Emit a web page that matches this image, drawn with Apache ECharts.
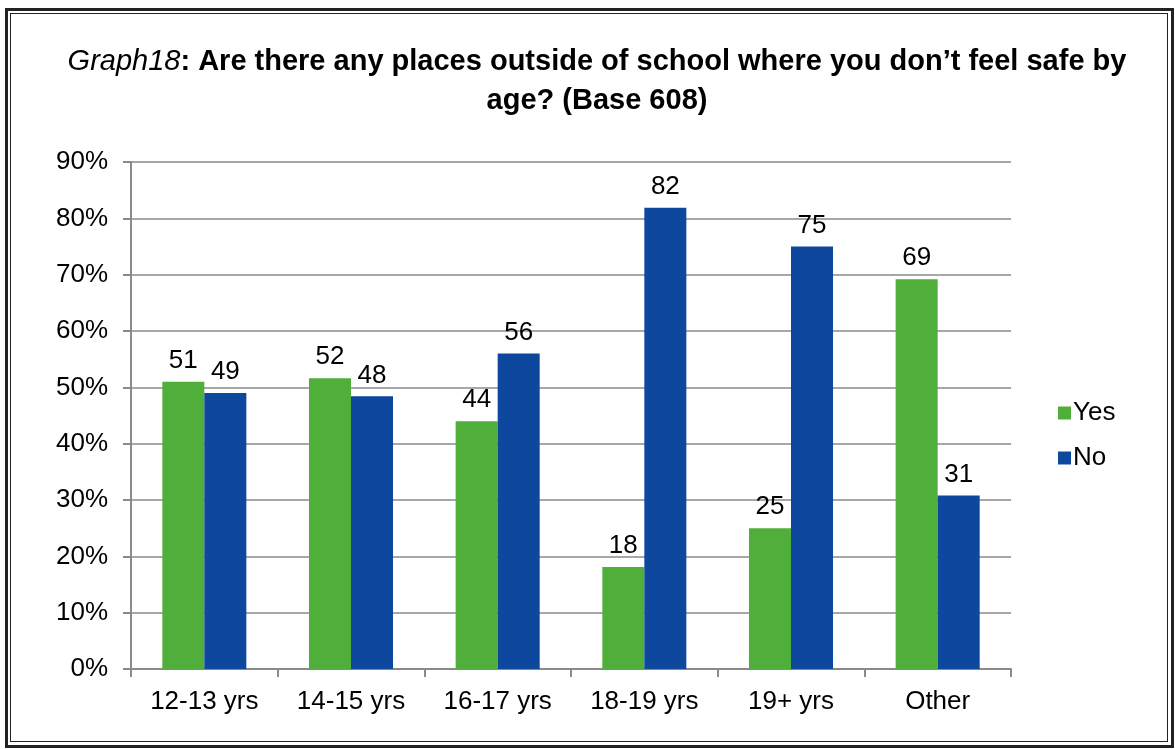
<!DOCTYPE html>
<html>
<head>
<meta charset="utf-8">
<script src="https://cdn.jsdelivr.net/npm/echarts@6/dist/echarts.min.js"></script>
<style>
    html, body { margin: 0; padding: 0; background: #fff; }
    #outer {
        position: absolute; left: 5px; top: 8px;
        width: 1163px; height: 734px;
        border: 3px solid #222;
    }
    #inner {
        position: absolute; left: 10px; top: 13px;
        width: 1156px; height: 727px;
        border: 1px solid #222;
    }
    #chart { position: absolute; left: 0; top: 0; width: 1175px; height: 749px; }
</style>
</head>
<body>
<div id="outer"></div>
<div id="inner"></div>
<div id="chart"></div>
<script>
    // categories and values
    const categories = ['12-13 yrs', '14-15 yrs', '16-17 yrs', '18-19 yrs', '19+ yrs', 'Other']
    const yesValues = [51, 51.6, 44, 18.1, 25, 69.2]
    const noValues = [49, 48.4, 56, 81.9, 75, 30.8]
    const yTicks = [0, 10, 20, 30, 40, 50, 60, 70, 80, 90]

    const font = '"Liberation Sans", Arial, sans-serif'
    const chart = echarts.init(document.getElementById('chart'))

    const labelOpt = {
        show: true,
        position: 'top',
        distance: 8,
        color: '#000',
        fontSize: 26,
        fontFamily: font,
        formatter: p => Math.round(p.value)
    }

    const option = {
        animation: false,
        title: {
            text: '{i|Graph18}{b|: Are there any places outside of school where you don\u2019t feel safe by}\n{b|age? (Base 608)}',
            left: 592,
            top: 37,
            textAlign: 'center',
            textStyle: {
                rich: {
                    i: { fontSize: 29, fontStyle: 'italic', fontWeight: 'normal', fontFamily: font, color: '#000', lineHeight: 39 },
                    b: { fontSize: 29, fontWeight: 'bold', fontFamily: font, color: '#000', lineHeight: 39 }
                }
            }
        },
        legend: {
            orient: 'vertical',
            left: 1053,
            top: 395,
            itemWidth: 13,
            itemHeight: 13,
            itemGap: 19,
            icon: 'rect',
            textStyle: { fontSize: 26, fontFamily: font, color: '#000', padding: [0, 0, 0, -3] },
            data: ['Yes', 'No']
        },
        grid: { left: 131, right: 164, top: 162, bottom: 80, containLabel: false },
        xAxis: {
            type: 'category',
            data: categories,
            axisLine: { lineStyle: { color: '#8a8a8a', width: 2 } },
            axisTick: { show: true, length: 8, lineStyle: { color: '#8a8a8a', width: 2 } },
            axisLabel: { fontSize: 26, fontFamily: font, color: '#000', margin: 20 }
        },
        yAxis: {
            type: 'value',
            min: yTicks[0],
            max: yTicks[yTicks.length - 1],
            interval: 10,
            axisLine: { show: true, lineStyle: { color: '#8a8a8a', width: 2 } },
            axisTick: { show: true, length: 8, lineStyle: { color: '#8a8a8a', width: 2 } },
            splitLine: { lineStyle: { color: '#8a8a8a', width: 1.5 } },
            axisLabel: { fontSize: 26, fontFamily: font, color: '#000', margin: 23, formatter: '{value}%' }
        },
        series: [
            {
                name: 'Yes', type: 'bar', data: yesValues,
                barGap: '0%', barCategoryGap: '42.7%',
                itemStyle: { color: '#50AE3A' },
                label: labelOpt
            },
            {
                name: 'No', type: 'bar', data: noValues,
                itemStyle: { color: '#0E479E' },
                label: labelOpt
            }
        ]
    }
    chart.setOption(option)
</script>
</body>
</html>
